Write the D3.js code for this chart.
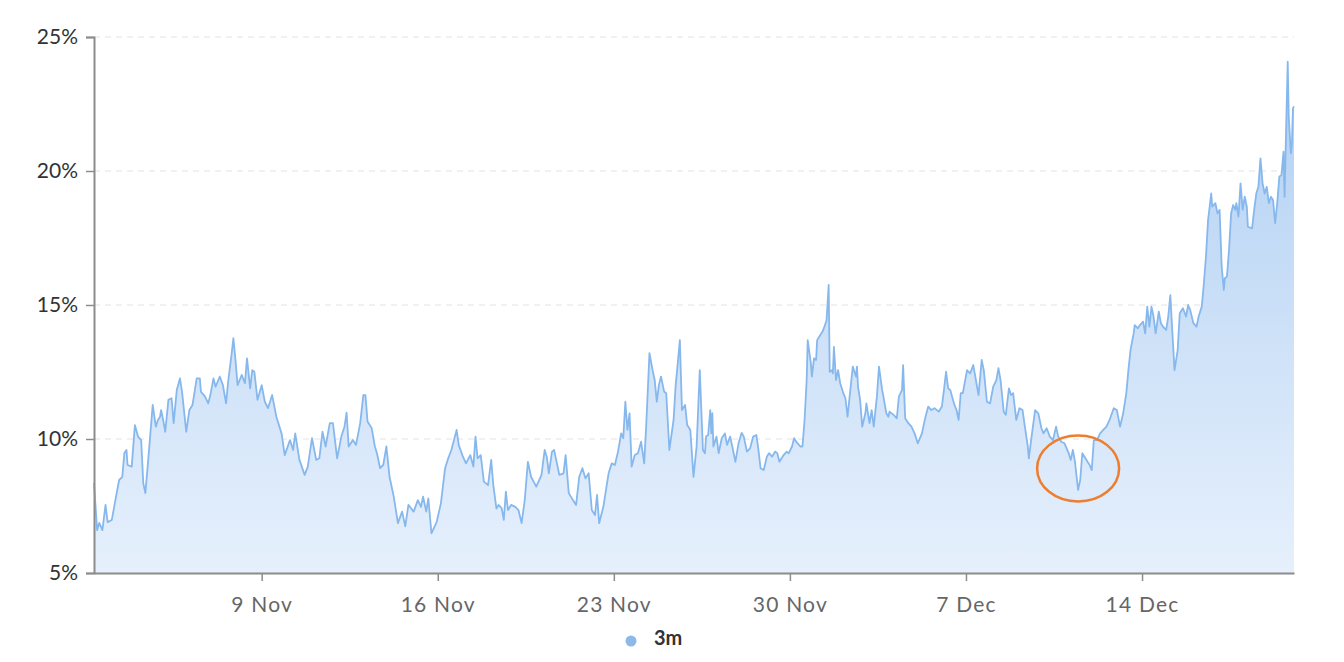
<!DOCTYPE html>
<html>
<head>
<meta charset="utf-8">
<script src="https://cdn.jsdelivr.net/npm/d3@7"></script>
<style>
  html, body { margin: 0; padding: 0; background: #fff; }
  svg { display: block; font-family: Lato, "Open Sans", sans-serif; }
</style>
</head>
<body>
<div id="chart"></div>
<script>
// ---- data ----
const seriesName = "3m";
const startDate = "2020-11-02T00:00:00Z";
// hours since startDate
const hours = [8,11,13,16,19,21,25,29,32,35,37,39,40,44,47,50,53,55,57,60,64,67,69,71,72,74,76,79,82,84,87,90,92,96,99,102,106,109,110,114,117,119,122,124,128,131,134,136,139,141,143,145,149,152,154,157,159,161,164,168,171,174,178,182,187,190,195,198,200,204,209,212,216,220,223,226,229,233,236,240,244,247,249,251,255,258,262,265,267,269,273,276,278,281,284,287,290,294,298,302,305,308,313,317,320,322,325,327,330,335,339,343,346,349,354,356,360,363,367,370,372,374,377,380,384,387,389,392,394,397,399,401,403,406,410,413,416,419,422,425,430,435,438,440,442,445,447,449,452,456,458,461,465,468,471,474,477,480,483,486,488,490,494,499,502,505,508,511,513,515,517,519,521,524,527,530,533,535,538,541,543,545,547,549,552,554,557,561,563,565,567,569,572,574,577,580,583,586,589,591,592,594,596,597,598,599,602,604,607,610,612,615,617,620,623,626,628,631,634,637,640,642,644,647,650,652,655,658,660,662,666,669,671,674,676,678,682,684,686,688,689,692,693,695,697,698,701,703,705,707,709,710,712,713,714,716,718,720,723,725,727,729,732,735,736,737,739,741,744,745,747,748,750,752,755,757,760,761,764,766,767,771,774,776,779,780,782,785,788,791,794,798,801,804,807,810,814,817,819,821,823,825,829,831,833,835,837,841,844,847,850,852,855,857,860,863,866,869,871,873,876,878,881,883,885,888,891,894,896,899,900,903,906,909,912,914,917,920,923,926,928,931,934,938,940,942,944,947,949,951,954,956,958,960,962,965,968,971,974,977,981,984,987,990,993,995,997,1000,1001,1004,1006,1009,1011,1013,1015,1017,1019,1021,1024,1026,1028,1031,1033,1035,1037,1039,1042,1044,1047,1050,1052,1054,1057,1060,1062,1065,1067,1069,1071,1074,1075,1078,1080,1082,1084,1086,1087,1089,1091,1093,1095,1097,1098,1100,1102,1104,1106,1108,1109,1113,1115,1117,1119,1121,1123,1125,1127,1129,1131,1133,1135,1137,1139,1141,1143,1144,1145,1147,1148,1150,1151,1152,1153];
// values in %
const values = [8.36,6.6,6.87,6.6,7.54,6.9,6.98,7.85,8.47,8.59,9.48,9.59,9.03,8.97,10.52,10.09,9.96,8.36,7.98,9.34,11.27,10.46,10.71,10.83,11.08,10.71,10.27,11.46,11.52,10.59,11.83,12.26,11.77,10.27,11.08,11.27,12.26,12.26,11.77,11.58,11.33,11.64,12.26,11.95,12.33,12.01,11.33,12.14,13.07,13.76,12.95,12.01,12.39,12.08,13.01,11.89,12.57,12.51,11.46,12.01,11.39,11.15,11.64,10.83,10.2,9.4,9.96,9.59,10.21,9.22,8.66,8.97,10.03,9.22,9.28,10.27,9.72,10.59,10.59,9.28,10.09,10.46,10.98,9.72,9.96,9.78,10.59,11.64,11.64,10.65,10.4,9.72,9.47,8.91,9.03,9.72,8.59,7.85,6.86,7.29,6.74,7.54,7.29,7.72,7.47,7.85,7.29,7.78,6.48,6.91,7.6,8.91,9.28,9.59,10.34,9.78,9.34,9.09,9.4,8.97,10.09,9.28,9.4,8.41,8.28,9.22,8.28,7.4,7.54,7.41,6.98,8.04,7.35,7.54,7.47,7.35,6.86,7.72,9.15,8.59,8.22,8.66,9.59,9.34,8.72,9.53,9.59,9.22,8.66,8.72,9.4,7.98,7.72,7.54,8.59,8.91,8.53,8.72,7.35,7.16,7.91,6.86,7.47,8.72,9.09,9.03,9.53,10.21,10.03,11.39,10.34,10.96,8.97,9.4,9.47,9.9,9.09,10.59,13.2,12.57,12.2,11.39,12.01,12.33,11.77,11.71,9.59,10.71,12.01,12.82,13.69,11.08,11.27,10.52,10.34,8.59,9.72,12.57,9.59,9.47,10.09,10.15,11.08,10.21,10.96,9.72,10.09,9.47,10.03,10.21,9.78,10.09,9.72,9.15,9.84,10.23,10.09,9.53,9.65,10.09,10.15,9.59,8.91,8.84,9.34,9.47,9.34,9.53,9.47,9.15,9.4,9.53,9.47,9.72,10.03,9.9,9.72,9.72,10.71,12.2,13.69,12.82,12.33,13.01,12.95,13.69,13.88,14.0,14.19,14.44,15.75,12.51,12.57,12.45,13.44,12.2,12.57,12.08,11.71,11.52,10.83,11.58,12.7,12.33,12.7,11.95,11.46,10.46,10.96,11.33,10.83,10.59,11.08,10.46,11.58,12.7,11.83,11.64,10.96,10.83,11.02,10.9,10.77,11.58,11.83,12.76,10.77,10.59,10.46,10.21,9.84,10.21,10.77,11.21,11.08,11.15,11.02,11.21,11.83,12.51,11.89,11.83,11.27,11.08,10.71,11.71,11.71,12.57,12.45,12.76,12.08,11.64,12.95,12.57,11.39,11.33,11.95,12.2,12.64,12.2,11.02,10.9,11.89,11.64,11.71,10.71,11.15,11.08,10.52,9.72,9.28,10.21,11.08,10.96,10.4,10.21,10.4,10.09,9.96,10.46,10.09,9.9,9.84,9.47,9.22,9.59,9.15,8.1,8.47,9.47,9.28,9.15,9.03,8.84,9.96,9.96,10.21,10.34,10.46,10.71,11.15,11.08,10.46,10.96,11.71,12.57,13.32,13.94,14.25,14.13,14.25,14.38,13.94,14.94,14.19,14.94,14.57,13.94,14.75,14.32,14.19,14.07,14.57,15.37,13.94,12.57,13.32,14.69,14.88,14.57,15.0,14.81,14.32,14.19,14.57,14.94,15.81,16.81,18.17,19.16,18.67,18.8,18.42,18.55,16.43,15.56,16.0,16.06,17.05,18.42,18.73,18.55,18.8,18.3,19.54,18.55,19.04,18.67,17.92,17.86,18.55,19.16,19.41,20.47,19.54,19.16,19.41,18.8,19.04,18.92,18.05,18.8,19.79,19.85,20.72,19.04,20.78,24.08,22.03,20.66,21.03,22.34,22.41];

const yTicks = [5, 10, 15, 20, 25];
const xTickDates = ["2020-11-09", "2020-11-16", "2020-11-23", "2020-11-30", "2020-12-07", "2020-12-14"];
const xTickLabels = ["9 Nov", "16 Nov", "23 Nov", "30 Nov", "7 Dec", "14 Dec"];
// highlighted region (orange ring): centre time (hours) and value
const highlightHours = [947];
const highlightValues = [8.9];

// ---- layout ----
const W = 1344, H = 662;
const margin = { top: 37, right: 50, bottom: 89, left: 94 };
const innerW = W - margin.left - margin.right;
const innerH = H - margin.top - margin.bottom;

const t0 = new Date(startDate).getTime();
const data = hours.map((h, i) => ({ date: new Date(t0 + h * 3600e3), value: values[i] }));

const x = d3.scaleUtc()
  .domain(d3.extent(data, d => d.date))
  .range([0, innerW]);
const y = d3.scaleLinear().domain([5, 25]).range([innerH, 0]);

const svg = d3.select("#chart").append("svg")
  .attr("width", W).attr("height", H);

const defs = svg.append("defs");
const grad = defs.append("linearGradient")
  .attr("id", "areaGrad")
  .attr("gradientUnits", "userSpaceOnUse")
  .attr("x1", 0).attr("x2", 0)
  .attr("y1", y(24)).attr("y2", y(5));
grad.append("stop").attr("offset", "0%").attr("stop-color", "#b1d0f3");
grad.append("stop").attr("offset", "100%").attr("stop-color", "#e6f0fc");

const g = svg.append("g").attr("transform", `translate(${margin.left},${margin.top})`);

// grid lines
g.append("g").selectAll("line")
  .data(yTicks.filter(v => v !== 5))
  .join("line")
  .attr("x1", 0).attr("x2", innerW)
  .attr("y1", d => y(d)).attr("y2", d => y(d))
  .attr("stroke", "#e3e3e3")
  .attr("stroke-width", 1)
  .attr("stroke-dasharray", "6,5");

// area + line
const area = d3.area()
  .x(d => x(d.date))
  .y0(y(5))
  .y1(d => y(d.value));
const line = d3.line()
  .x(d => x(d.date))
  .y(d => y(d.value));

g.append("path").datum(data)
  .attr("d", area)
  .attr("fill", "url(#areaGrad)");
g.append("path").datum(data)
  .attr("d", line)
  .attr("fill", "none")
  .attr("stroke", "#86b8ee")
  .attr("stroke-width", 1.8)
  .attr("stroke-linejoin", "round");

// y axis
const yAxis = g.append("g")
  .call(d3.axisLeft(y).tickValues(yTicks).tickFormat(d => d + "%").tickSize(8).tickPadding(8));
yAxis.select(".domain").attr("stroke", "#8c8c8c").attr("stroke-width", 2);
yAxis.selectAll(".tick line").attr("stroke", "#8c8c8c").attr("stroke-width", 1.5);
yAxis.selectAll(".tick text")
  .attr("fill", "#333")
  .attr("font-size", 21)
  .attr("font-family", "Lato, sans-serif");

// x axis
const xAxis = g.append("g")
  .attr("transform", `translate(0,${innerH})`)
  .call(d3.axisBottom(x)
    .tickValues(xTickDates.map(s => new Date(s + "T00:00:00Z")))
    .tickFormat((d, i) => xTickLabels[i])
    .tickSize(8).tickSizeOuter(0).tickPadding(16));
xAxis.select(".domain").attr("stroke", "#8c8c8c").attr("stroke-width", 2);
xAxis.selectAll(".tick line").attr("stroke", "#8c8c8c").attr("stroke-width", 1.5);
xAxis.selectAll(".tick text")
  .attr("fill", "#666")
  .attr("font-size", 21)
  .attr("letter-spacing", "1.2px")
  .attr("font-family", "Lato, sans-serif");

// highlight ring
g.append("g").selectAll("ellipse")
  .data(highlightHours.map((h, i) => ({ date: new Date(t0 + h * 3600e3), value: highlightValues[i] })))
  .join("ellipse")
  .attr("cx", d => x(d.date))
  .attr("cy", d => y(d.value))
  .attr("rx", 41)
  .attr("ry", 33)
  .attr("fill", "none")
  .attr("stroke", "#ee7d30")
  .attr("stroke-width", 2.5);

// legend
const legend = svg.append("g").attr("transform", `translate(631,641)`);
legend.append("circle").attr("r", 5.5).attr("fill", "#8cb9ea");
legend.append("text")
  .attr("x", 23).attr("y", -3)
  .attr("dy", "0.35em")
  .attr("font-size", 20)
  .attr("font-weight", "bold")
  .attr("fill", "#333")
  .attr("font-family", "Lato, sans-serif")
  .text(seriesName);
</script>
</body>
</html>
